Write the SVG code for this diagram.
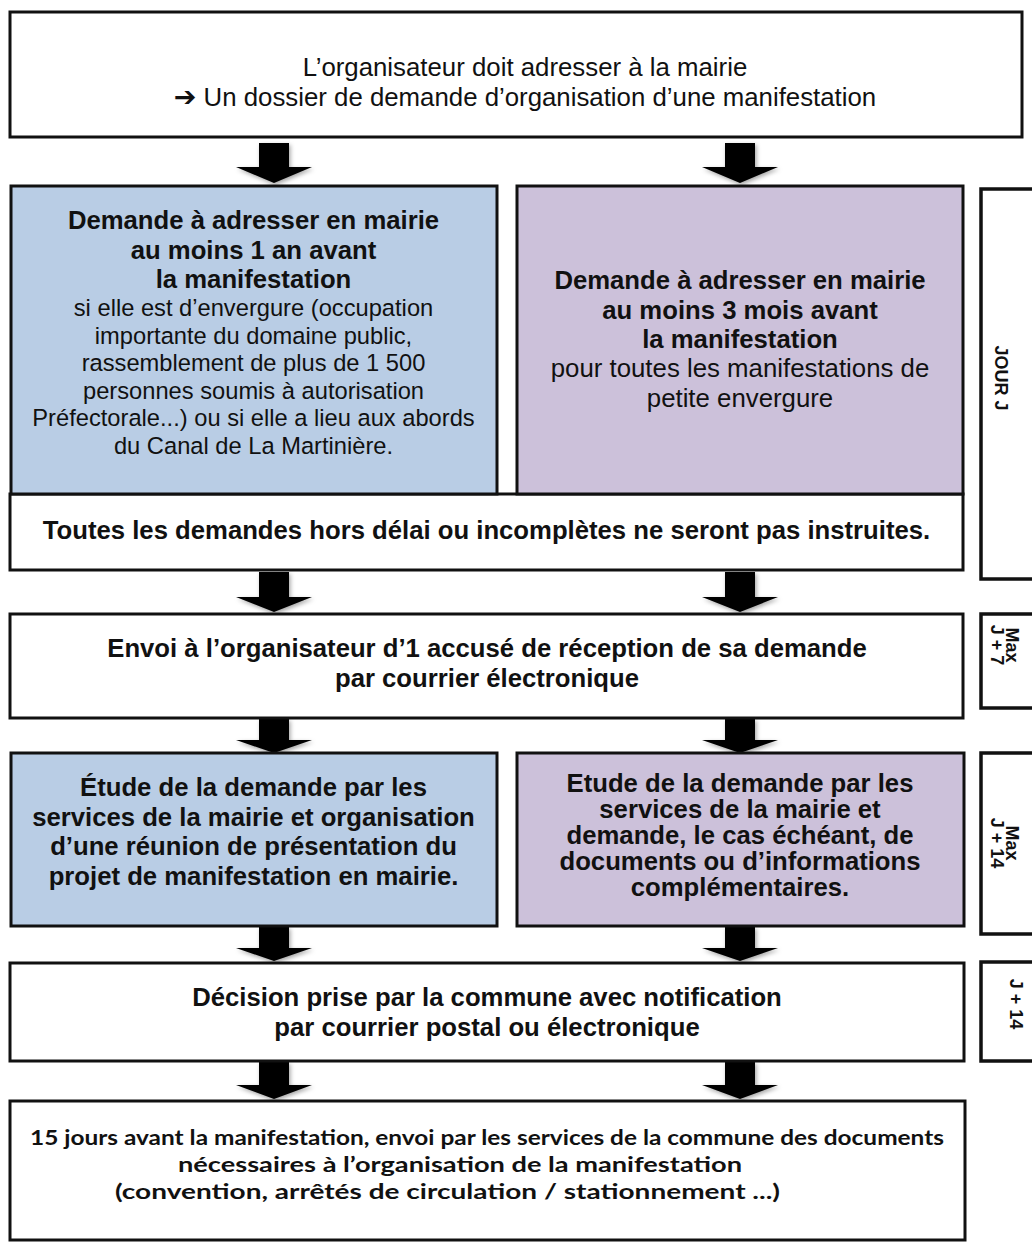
<svg xmlns="http://www.w3.org/2000/svg" width="1032" height="1247" viewBox="0 0 1032 1247">
<defs>
<style>
.box{stroke:#111;stroke-width:3;fill:#fff}
.blue{fill:#b9cde5}
.purple{fill:#ccc1da}
.side{stroke:#111;stroke-width:3.5;fill:#fff}
.t{font-family:"Liberation Sans",Arial,sans-serif;fill:#111;text-anchor:middle}
.b{font-weight:bold;font-size:25.7px}
.r{font-size:25.8px}
.rs{font-size:23.7px}
.s{font-weight:bold;font-size:18px}
.c{font-family:Lato,"Open Sans",sans-serif;font-weight:bold;font-size:21.5px;fill:#111;text-anchor:middle}
.arr{fill:#000;filter:url(#sh)}
</style>
<filter id="sh" x="-30%" y="-30%" width="160%" height="160%">
<feDropShadow dx="1.5" dy="2" stdDeviation="2" flood-color="#000" flood-opacity="0.35"/>
</filter>
</defs>

<g id="connectors">
<path class="arr" d="M259 143 H289 V167 H312 L274 183 L236 167 H259 Z"/>
<path class="arr" d="M725 143 H755 V167 H778 L740 183 L702 167 H725 Z"/>
<path class="arr" d="M259 572 H289 V597 H312 L274 612 L236 597 H259 Z"/>
<path class="arr" d="M725 572 H755 V597 H778 L740 612 L702 597 H725 Z"/>
<path class="arr" d="M259 719 H289 V740 H312 L274 753 L236 740 H259 Z"/>
<path class="arr" d="M725 719 H755 V740 H778 L740 753 L702 740 H725 Z"/>
<path class="arr" d="M259 927 H289 V948 H312 L274 961 L236 948 H259 Z"/>
<path class="arr" d="M725 927 H755 V948 H778 L740 961 L702 948 H725 Z"/>
<path class="arr" d="M259 1062 H289 V1085 H312 L274 1099 L236 1085 H259 Z"/>
<path class="arr" d="M725 1062 H755 V1085 H778 L740 1099 L702 1085 H725 Z"/>
</g>

<g id="node-top">
<rect class="box" x="10" y="12" width="1012" height="125"/>
<text class="t r" x="525" y="76">L’organisateur doit adresser à la mairie</text>
<text class="t r" x="525" y="106"><tspan font-family="DejaVu Sans" font-weight="bold" font-size="27">➔</tspan> Un dossier de demande d’organisation d’une manifestation</text>
</g>

<g id="node-toutes">
<rect class="box" x="10" y="494" width="953" height="76"/>
<text class="t b" x="486.5" y="539">Toutes les demandes hors délai ou incomplètes ne seront pas instruites.</text>
</g>

<g id="node-1an">
<rect class="box blue" x="11" y="186" width="486" height="308"/>
<text class="t b" x="253.5" y="229">Demande à adresser en mairie</text>
<text class="t b" x="253.5" y="258.5">au moins 1 an avant</text>
<text class="t b" x="253.5" y="288">la manifestation</text>
<text class="t rs" x="253.5" y="316">si elle est d’envergure (occupation</text>
<text class="t rs" x="253.5" y="343.5">importante du domaine public,</text>
<text class="t rs" x="253.5" y="371">rassemblement de plus de 1 500</text>
<text class="t rs" x="253.5" y="398.5">personnes soumis à autorisation</text>
<text class="t rs" x="253.5" y="426">Préfectorale...) ou si elle a lieu aux abords</text>
<text class="t rs" x="253.5" y="454">du Canal de La Martinière.</text>
</g>

<g id="node-3mois">
<rect class="box purple" x="517" y="186" width="446" height="308"/>
<text class="t b" x="740" y="289">Demande à adresser en mairie</text>
<text class="t b" x="740" y="318.5">au moins 3 mois avant</text>
<text class="t b" x="740" y="348">la manifestation</text>
<text class="t r" x="740" y="377">pour toutes les manifestations de</text>
<text class="t r" x="740" y="407">petite envergure</text>
</g>

<g id="node-envoi">
<rect class="box" x="10" y="614" width="953" height="104"/>
<text class="t b" x="487" y="657">Envoi à l’organisateur d’1 accusé de réception de sa demande</text>
<text class="t b" x="487" y="687">par courrier électronique</text>
</g>

<g id="node-etude-blue">
<rect class="box blue" x="11" y="753" width="486" height="173"/>
<text class="t b" x="253.5" y="796">Étude de la demande par les</text>
<text class="t b" x="253.5" y="826">services de la mairie et organisation</text>
<text class="t b" x="253.5" y="855">d’une réunion de présentation du</text>
<text class="t b" x="253.5" y="885">projet de manifestation en mairie.</text>
</g>

<g id="node-etude-purple">
<rect class="box purple" x="517" y="753" width="447" height="173"/>
<text class="t b" x="740" y="792">Etude de la demande par les</text>
<text class="t b" x="740" y="818">services de la mairie et</text>
<text class="t b" x="740" y="844">demande, le cas échéant, de</text>
<text class="t b" x="740" y="870">documents ou d’informations</text>
<text class="t b" x="740" y="896">complémentaires.</text>
</g>

<g id="node-decision">
<rect class="box" x="10" y="963" width="954" height="98"/>
<text class="t b" x="487" y="1006">Décision prise par la commune avec notification</text>
<text class="t b" x="487" y="1036">par courrier postal ou électronique</text>
</g>

<g id="node-final">
<rect class="box" x="10" y="1101" width="955" height="139"/>
<text class="c" x="487" y="1145" textLength="914" lengthAdjust="spacingAndGlyphs">15 jours avant la manifestation, envoi par les services de la commune des documents</text>
<text class="c" x="460" y="1172" textLength="564" lengthAdjust="spacingAndGlyphs">nécessaires à l’organisation de la manifestation</text>
<text class="c" x="447.5" y="1199" textLength="665" lengthAdjust="spacingAndGlyphs">(convention, arrêtés de circulation / stationnement ...)</text>
</g>

<g id="side-jourj">
<rect class="side" x="981" y="189" width="70" height="390"/>
<text class="t s" transform="translate(995 378) rotate(90)">JOUR J</text>
</g>

<g id="side-j7">
<rect class="side" x="981" y="614" width="70" height="94"/>
<text class="t s" transform="translate(1006 645) rotate(90)">Max</text>
<text class="t s" transform="translate(991 645) rotate(90)">J + 7</text>
</g>

<g id="side-j14max">
<rect class="side" x="981" y="753" width="70" height="181"/>
<text class="t s" transform="translate(1006 843) rotate(90)">Max</text>
<text class="t s" transform="translate(991 843) rotate(90)">J + 14</text>
</g>

<g id="side-j14">
<rect class="side" x="981" y="962" width="70" height="99"/>
<text class="t s" transform="translate(1010 1004) rotate(90)">J + 14</text>
</g>
</svg>
